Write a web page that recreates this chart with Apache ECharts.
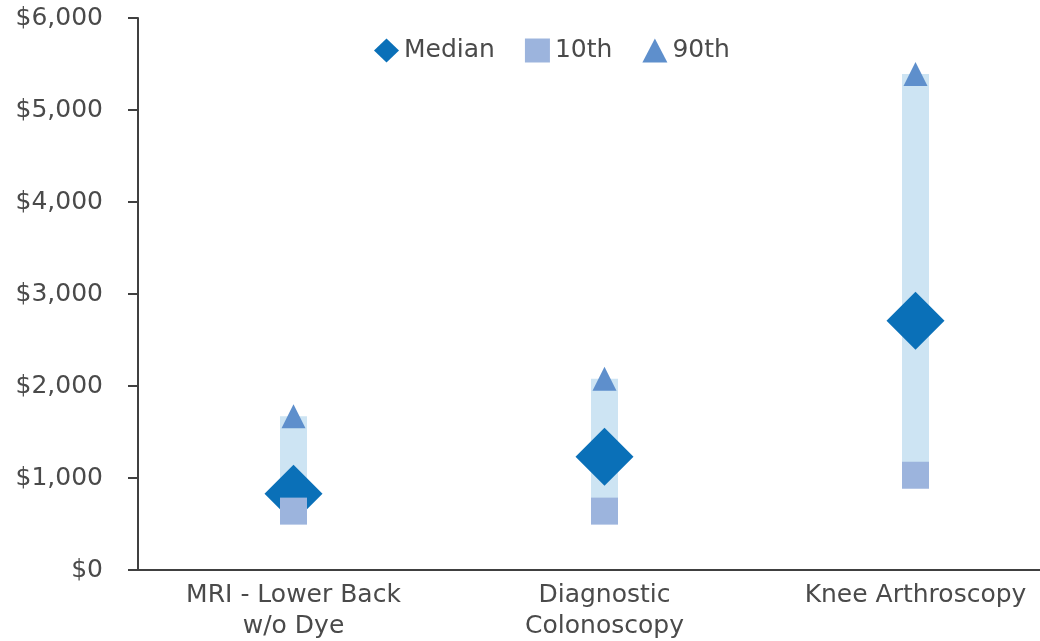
<!DOCTYPE html>
<html>
<head>
<meta charset="utf-8">
<script src="https://cdn.jsdelivr.net/npm/echarts@6/dist/echarts.min.js"></script>
<style>
  html, body { margin: 0; padding: 0; background: #fff; }
  #main { width: 1040px; height: 641px; }
</style>
</head>
<body>
<div id="main"></div>
<script>
// categories and values
var categories = ['MRI - Lower Back\nw/o Dye', 'Diagnostic\nColonoscopy', 'Knee Arthroscopy'];
var p10    = [640, 640, 1030];
var median = [830, 1230, 2710];
var p90    = [1670, 2080, 5390];
var yTicks = [0, 1000, 2000, 3000, 4000, 5000, 6000];

var fontFam = '"DejaVu Sans", sans-serif';
var textCol = '#4a4a4a';

// floating bar = invisible base + range
var rangeVals = [];
for (var i = 0; i < p10.length; i++) {
  rangeVals.push(p90[i] - p10[i]);
}

var chart = echarts.init(document.getElementById('main'));
chart.setOption({
  animation: false,
  grid: { left: 138, top: 18, right: -31, bottom: 71, outerBoundsMode: 'none', containLabel: false },
  legend: {
    data: [
      { name: 'Median', icon: 'diamond' },
      { name: '10th', icon: 'rect' },
      { name: '90th', icon: 'triangle' }
    ],
    left: 369, top: 33,
    itemWidth: 25, itemHeight: 24, itemGap: 30,
    textStyle: { fontFamily: fontFam, fontSize: 25, color: textCol }
  },
  xAxis: {
    type: 'category',
    data: categories,
    axisLine: { lineStyle: { color: '#404040', width: 2 } },
    axisTick: { show: false },
    axisLabel: {
      fontFamily: fontFam, fontSize: 25, color: textCol,
      margin: 10, lineHeight: 31, interval: 0
    }
  },
  yAxis: {
    type: 'value',
    min: yTicks[0], max: yTicks[yTicks.length - 1], interval: 1000,
    splitLine: { show: false },
    axisLine: { show: true, lineStyle: { color: '#404040', width: 2 } },
    axisTick: { show: true, length: 10, lineStyle: { color: '#404040', width: 2 } },
    axisLabel: {
      fontFamily: fontFam, fontSize: 25, color: textCol, margin: 35,
      formatter: function (v) { return '$' + v.toLocaleString('en-US'); }
    }
  },
  series: [
    {
      name: 'base', type: 'bar', stack: 'r', data: p10, barWidth: 27,
      itemStyle: { color: 'rgba(0,0,0,0)' }, silent: true
    },
    {
      name: 'range', type: 'bar', stack: 'r', data: rangeVals, barWidth: 27,
      itemStyle: { color: '#cde4f3' }
    },
    {
      name: 'Median', type: 'scatter', data: median,
      symbol: 'diamond', symbolSize: 58,
      itemStyle: { color: '#0a70b8', opacity: 1 }
    },
    {
      name: '10th', type: 'scatter', data: p10,
      symbol: 'rect', symbolSize: 27,
      itemStyle: { color: '#9cb4dd', opacity: 1 }
    },
    {
      name: '90th', type: 'scatter', data: p90,
      symbol: 'triangle', symbolSize: 24,
      itemStyle: { color: '#5e8fcc', opacity: 1 }
    }
  ]
});
</script>
</body>
</html>
